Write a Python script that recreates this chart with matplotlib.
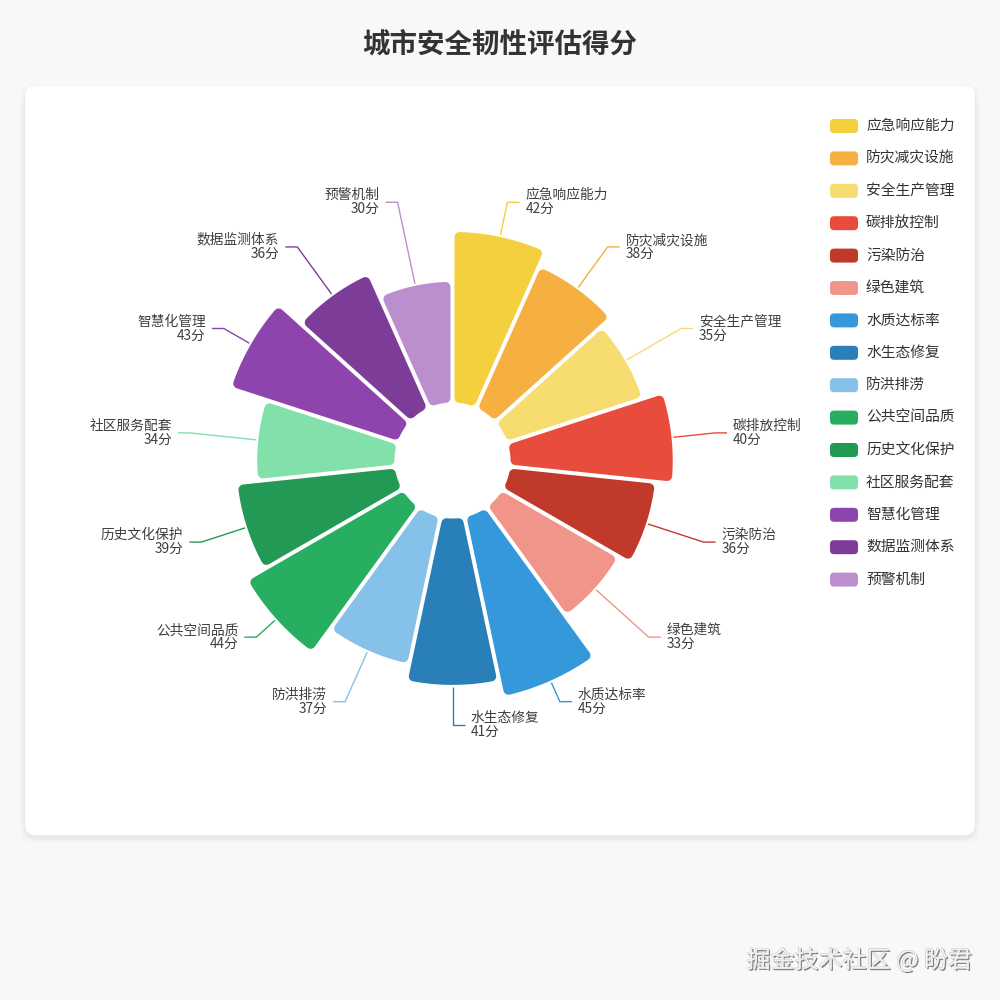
import numpy as np
import matplotlib
matplotlib.use("Agg")
import matplotlib.pyplot as plt
from matplotlib.patches import Polygon, FancyBboxPatch
import matplotlib.patheffects as pe

plt.rcParams['font.family'] = ['Noto Sans CJK SC', 'DejaVu Sans']

# ---- data ----
names = ['应急响应能力', '防灾减灾设施', '安全生产管理', '碳排放控制', '污染防治', '绿色建筑',
         '水质达标率', '水生态修复', '防洪排涝', '公共空间品质', '历史文化保护', '社区服务配套',
         '智慧化管理', '数据监测体系', '预警机制']
scores = [42, 38, 35, 40, 36, 33, 45, 41, 37, 44, 39, 34, 43, 36, 30]
colors = ['#f4d03f', '#f5b041', '#f7dc6f', '#e74c3c', '#c0392b', '#f1948a',
          '#3498db', '#2980b9', '#85c1e9', '#27ae60', '#229954', '#82e0aa',
          '#8e44ad', '#7d3c98', '#bb8fce']
title = '城市安全韧性评估得分'
unit = '分'
watermark = '掘金技术社区 @ 盼君'

PX = 0.72  # points per pixel (dpi 100)

fig = plt.figure(figsize=(10, 10), dpi=100)
fig.patch.set_facecolor('#f7f8fa')
ax = fig.add_axes([0, 0, 1, 1])
ax.set_xlim(0, 1000)
ax.set_ylim(1000, 0)
ax.axis('off')

# card with soft shadow
card_x, card_y, card_w, card_h = 25, 86, 950, 749
for k, a in [(10, 0.012), (6, 0.018), (3, 0.025)]:
    ax.add_patch(FancyBboxPatch((card_x - k / 2, card_y - k / 2 + 3), card_w + k, card_h + k,
                                boxstyle='round,pad=0,rounding_size=14', fc='#000000', ec='none',
                                alpha=a, zorder=0))
ax.add_patch(FancyBboxPatch((card_x, card_y), card_w, card_h,
                            boxstyle='round,pad=0,rounding_size=10', fc='white', ec='none', zorder=1))

ax.text(500, 45, title, ha='center', va='center', fontsize=27.5 * PX, fontweight='bold', color='#333333')

# rose chart
cx, cy = card_x + 0.45 * card_w, card_y + 0.5 * card_h
r_in, r_out = 56, 243
gap, corner = 4, 5
r_label = r_out + 21
n = len(scores)
step = 2 * np.pi / n
vmax = max(scores)

for i, (name, v, c) in enumerate(zip(names, scores, colors)):
    t1, t2 = i * step, (i + 1) * step
    r = r_in + (r_out - r_in) * v / vmax
    e = gap / 2 + corner
    ri, ro = r_in + e, r - e
    a_o, a_i = np.arcsin(e / ro), np.arcsin(e / ri)
    th_o = np.linspace(t1 + a_o, t2 - a_o, 60)
    th_i = np.linspace(t2 - a_i, t1 + a_i, 20)
    xs = np.concatenate([cx + ro * np.sin(th_o), cx + ri * np.sin(th_i)])
    ys = np.concatenate([cy - ro * np.cos(th_o), cy - ri * np.cos(th_i)])
    ax.add_patch(Polygon(np.column_stack([xs, ys]), closed=True, fc=c, ec=c,
                         lw=2 * corner * PX, joinstyle='round', zorder=3))

    # label line + label
    mid = (t1 + t2) / 2
    side = 1 if np.sin(mid) > -1e-9 else -1
    r0 = r - gap / 2 + 2
    x1, y1 = cx + r0 * np.sin(mid), cy - r0 * np.cos(mid)
    x2, y2 = cx + r_label * np.sin(mid), cy - r_label * np.cos(mid)
    x3 = x2 + side * 12
    ax.plot([x1, x2, x3], [y1, y2, y2], color=c, lw=1.0, zorder=2, solid_capstyle='butt')
    tx = x3 + side * 6
    ha = 'left' if side > 0 else 'right'
    ax.text(tx, y2 - 7, name, ha=ha, va='center', fontsize=13.7 * PX, color='#3d3d3d', zorder=4)
    ax.text(tx, y2 + 7, f'{v}{unit}', ha=ha, va='center', fontsize=13.7 * PX, color='#3d3d3d', zorder=4)

# legend
for i, (name, c) in enumerate(zip(names, colors)):
    ly = 126 + 32.4 * i
    ax.add_patch(FancyBboxPatch((830, ly - 7), 28, 14, boxstyle='round,pad=0,rounding_size=4',
                                fc=c, ec='none', zorder=3))
    ax.text(866, ly, name, ha='left', va='center', fontsize=14.8 * PX, color='#333333', zorder=4)

# watermark
ax.text(972, 960, watermark, ha='right', va='center', fontsize=24 * PX, color='#f2f2f2', zorder=5,
        path_effects=[pe.withSimplePatchShadow(offset=(1, -1), shadow_rgbFace='#6a6a6a', alpha=0.85),
                      pe.Stroke(linewidth=0.4, foreground='#b0b0b0'), pe.Normal()])

fig.savefig('out.png', dpi=100, facecolor=fig.get_facecolor())
